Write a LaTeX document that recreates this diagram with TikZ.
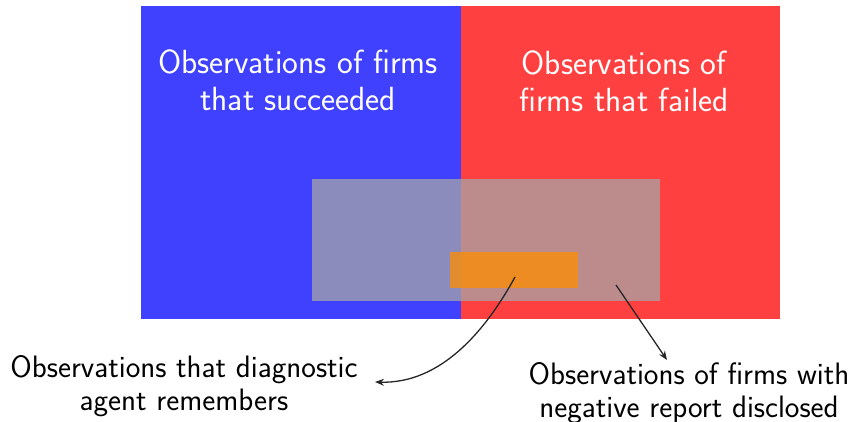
\documentclass[tikz,border=0pt]{standalone}
\usetikzlibrary{arrows.meta,calc}
\definecolor{overlaygray}{RGB}{166,166,166}
\definecolor{memorange}{RGB}{255,140,0}
\tikzset{
  region/.style={inner sep=0pt, outer sep=0pt, anchor=north west, fill opacity=0.75, text opacity=1},
  bigtext/.style={font=\sffamily\fontsize{33.5}{37}\selectfont, align=center, inner sep=0pt},
  notetext/.style={font=\sffamily\fontsize{31}{32.5}\selectfont, align=center, inner sep=0pt},
  pointer/.style={draw=black!85, line width=1.3pt, -{Stealth[length=9pt,width=7pt,inset=3pt]}}
}
\begin{document}
\begin{tikzpicture}[x=1pt,y=-1pt]
\useasboundingbox (0,0) rectangle (851,422);
% the two halves of the observation space
\node[region, fill=blue, minimum width=320pt, minimum height=313pt] (succ) at (141,6) {};
\node[region, fill=red, minimum width=319pt, minimum height=313pt] (fail) at (461,6) {};
% disclosed negative reports and remembered observations
\node[region, fill=overlaygray, minimum width=348pt, minimum height=122pt] (neg) at (312,179) {};
\node[region, fill=memorange, minimum width=128pt, minimum height=36pt] (mem) at (450,252) {};
% labels
\node[bigtext, text=white] (succlabel) at (298,80) {Observations of firms\\that succeeded};
\node[bigtext, text=white] (faillabel) at (624,81) {Observations of\\firms that failed};
\node[notetext] (memlabel) at (184,386) {Observations that diagnostic\\agent remembers};
\node[notetext] (neglabel) at (689,393) {Observations of firms with\\negative report disclosed};
% connectors
\coordinate (memstart) at (515,277);
\coordinate (memend) at (375,382);
\coordinate (negstart) at (616,285);
\coordinate (negend) at (667,360);
\draw[pointer] (memstart) .. controls (485,332) and (440,384) .. (memend);
\draw[pointer] (negstart) -- (negend);
\end{tikzpicture}
\end{document}
